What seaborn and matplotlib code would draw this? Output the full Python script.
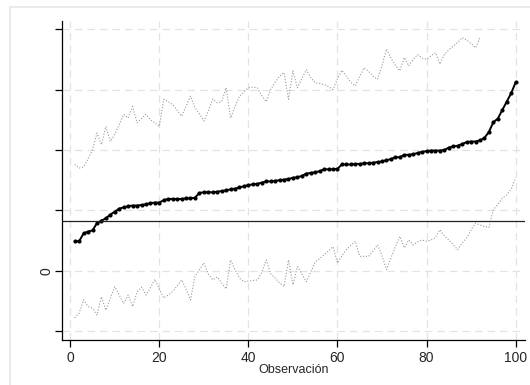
import numpy as np
import pandas as pd
import seaborn as sns
from matplotlib import pyplot as plt
from matplotlib.patches import Rectangle

# observation index
obs = list(range(1, 101))

# sorted estimate (solid line with markers)
estimate = [0.49, 0.49, 0.62, 0.65, 0.67, 0.79, 0.83, 0.87, 0.93, 0.98,
            1.03, 1.05, 1.07, 1.08, 1.08, 1.09, 1.10, 1.12, 1.13, 1.13,
            1.17, 1.19, 1.19, 1.19, 1.19, 1.20, 1.20, 1.21, 1.29, 1.30,
            1.30, 1.30, 1.31, 1.32, 1.33, 1.35, 1.36, 1.38, 1.40, 1.42,
            1.43, 1.44, 1.46, 1.48, 1.48, 1.49, 1.50, 1.51, 1.52, 1.54,
            1.55, 1.57, 1.61, 1.62, 1.63, 1.65, 1.68, 1.68, 1.68, 1.69,
            1.76, 1.76, 1.76, 1.77, 1.77, 1.78, 1.78, 1.79, 1.80, 1.81,
            1.83, 1.85, 1.88, 1.88, 1.92, 1.92, 1.93, 1.95, 1.97, 1.98,
            1.99, 1.99, 1.99, 2.00, 2.04, 2.06, 2.07, 2.10, 2.13, 2.14,
            2.14, 2.16, 2.20, 2.30, 2.46, 2.52, 2.66, 2.80, 2.94, 3.12]

# upper bound (dotted), missing after obs 92
upper = [1.76, 1.70, 1.72, 1.85, 2.00, 2.28, 2.09, 2.39, 2.14, 2.26,
         2.42, 2.59, 2.53, 2.72, 2.45, 2.52, 2.59, 2.50, 2.45, 2.39,
         2.84, 2.80, 2.75, 2.66, 2.56, 2.72, 2.89, 2.70, 2.60, 2.48,
         2.65, 2.84, 2.78, 2.80, 3.03, 2.53, 2.72, 2.89, 2.96, 3.03,
         3.04, 3.03, 2.90, 2.80, 3.00, 3.12, 3.22, 3.28, 2.84, 3.31,
         3.03, 3.18, 3.33, 3.20, 3.11, 3.10, 3.08, 3.05, 3.00, 3.18,
         3.32, 3.22, 3.12, 3.06, 3.22, 3.36, 3.30, 3.22, 3.17, 3.40,
         3.67, 3.52, 3.40, 3.31, 3.53, 3.39, 3.50, 3.58, 3.52, 3.50,
         3.56, 3.61, 3.42, 3.58, 3.66, 3.72, 3.78, 3.86, 3.82, 3.76,
         3.69, 3.86] + [np.nan] * 8

# lower bound (dotted)
lower = [-0.78, -0.70, -0.48, -0.59, -0.62, -0.73, -0.43, -0.65, -0.45, -0.26,
         -0.40, -0.54, -0.40, -0.59, -0.35, -0.27, -0.40, -0.28, -0.14, -0.30,
         -0.45, -0.40, -0.34, -0.25, -0.15, -0.30, -0.48, -0.09, 0.02, 0.13,
         -0.05, -0.15, -0.10, -0.20, -0.30, 0.18, 0.02, -0.12, -0.18, -0.17,
         -0.16, -0.15, -0.02, 0.18, -0.05, -0.12, -0.20, -0.26, 0.18, -0.23,
         0.07, -0.05, -0.18, -0.02, 0.15, 0.20, 0.27, 0.33, 0.40, 0.13,
         0.25, 0.35, 0.42, 0.49, 0.24, 0.24, 0.24, 0.33, 0.43, 0.25,
         0.02, 0.21, 0.40, 0.57, 0.38, 0.51, 0.43, 0.48, 0.51, 0.49,
         0.51, 0.55, 0.68, 0.58, 0.51, 0.43, 0.35, 0.46, 0.54, 0.68,
         0.79, 0.76, 0.73, 0.72, 1.01, 1.10, 1.20, 1.26, 1.35, 1.54]

ref_line = 0.82
x_ticks = [0, 20, 40, 60, 80, 100]
y_ticks = [-1, 0, 1, 2, 3, 4]
y_labels = ['', '0', '', '', '', '']

sns.set_style("white")
plt.rcParams['font.family'] = ['Liberation Sans', 'DejaVu Sans']

df = pd.DataFrame({'obs': obs, 'estimate': estimate, 'upper': upper, 'lower': lower})

fig = plt.figure(figsize=(5.3, 3.85), dpi=100)
fig.patches.append(Rectangle((10 / 530, -0.1), 1.2, (385 - 7) / 385 + 0.1,
                             transform=fig.transFigure, fill=False,
                             edgecolor='#ebebeb', linewidth=1.5))
ax = fig.add_axes([62 / 530, 45 / 385, 463 / 530, 319 / 385])

for t in x_ticks:
    ax.axvline(t, color='#e3e3e3', linestyle=(0, (6, 4)), linewidth=0.9, zorder=0)
for t in y_ticks:
    ax.axhline(t, color='#e3e3e3', linestyle=(0, (6, 4)), linewidth=0.9, zorder=0)

dots = (0, (1, 1.6))
sns.lineplot(data=df, x='obs', y='upper', ax=ax, color='#999999',
             linestyle=dots, linewidth=0.8)
sns.lineplot(data=df, x='obs', y='lower', ax=ax, color='#999999',
             linestyle=dots, linewidth=0.8)
sns.lineplot(data=df, x='obs', y='estimate', ax=ax, color='black',
             linewidth=1.4, marker='o', markersize=3, markeredgewidth=0)
ax.axhline(ref_line, color='#222222', linewidth=0.9)

ax.set_xlim(-1.85, 102.1)
ax.set_ylim(-1.144, 4.134)
ax.set_xticks(x_ticks)
ax.set_yticks(y_ticks)
ax.set_yticklabels(y_labels, rotation=90, va='center')
ax.tick_params(axis='both', direction='out', length=5, width=0.9,
               color='black', labelsize=10, pad=3, left=True, bottom=True)
ax.tick_params(axis='y', pad=1)
ax.set_xlabel("Observación", fontsize=9, labelpad=0)
ax.set_ylabel("")
ax.xaxis.set_label_coords(0.5, -0.075)

sns.despine(ax=ax)
for s in ['left', 'bottom']:
    ax.spines[s].set_color('black')
    ax.spines[s].set_linewidth(0.9)

plt.savefig('out.png', dpi=100)
